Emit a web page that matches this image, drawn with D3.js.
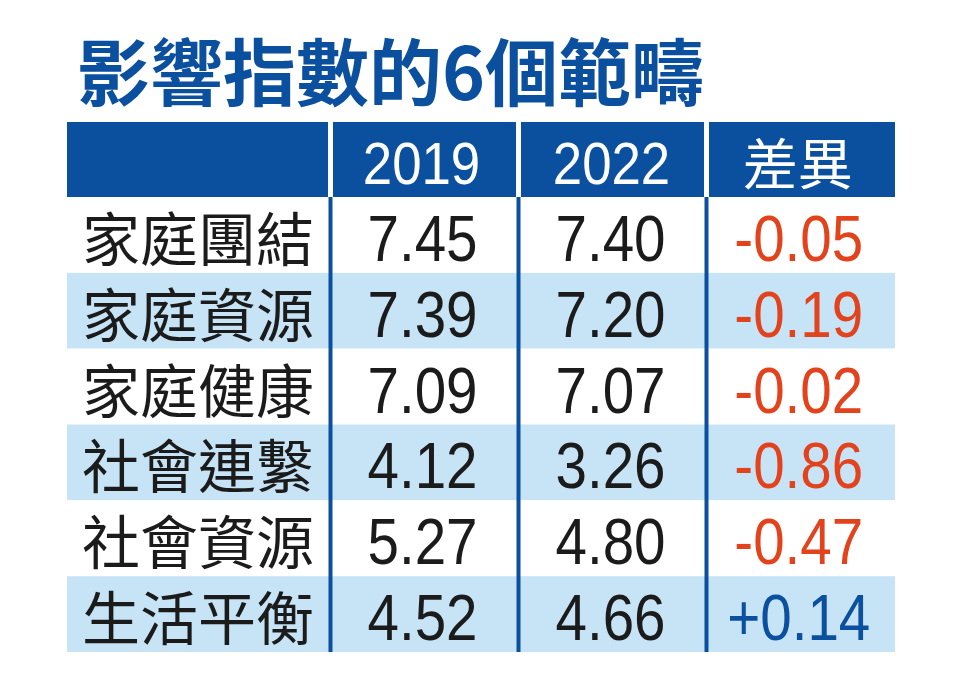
<!DOCTYPE html>
<html>
<head>
<meta charset="utf-8">
<script src="https://cdn.jsdelivr.net/npm/d3@7"></script>
<style>
  html, body { margin: 0; padding: 0; background: #fff; }
  svg { display: block; }
</style>
</head>
<body>
<svg id="chart" width="960" height="683"></svg>
<script>
const title = "影響指數的6個範疇";
const headers = ["", "2019", "2022", "差異"];
const categories = ["家庭團結", "家庭資源", "家庭健康", "社會連繫", "社會資源", "生活平衡"];
const values2019 = ["7.45", "7.39", "7.09", "4.12", "5.27", "4.52"];
const values2022 = ["7.40", "7.20", "7.07", "3.26", "4.80", "4.66"];
const diffs = ["-0.05", "-0.19", "-0.02", "-0.86", "-0.47", "+0.14"];

const svg = d3.select("#chart");
const blue = "#0b4f9f";
const light = "#c7e4f7";
const red = "#e2431c";
const ink = "#1b1b1b";

const left = 67, right = 895;
const colEdges = [left, 330.5, 518.5, 706.5, right];
const headerTop = 122, headerBottom = 197, tableBottom = 652;

const y = d3.scaleBand().domain(d3.range(categories.length)).range([headerBottom, tableBottom]);

// title
svg.append("text")
  .attr("x", 77).attr("y", 68)
  .attr("dominant-baseline", "central")
  .attr("font-family", "'Noto Sans CJK TC', 'Noto Sans CJK SC', sans-serif")
  .attr("font-weight", 700)
  .attr("font-size", 73)
  .attr("fill", blue)
  .text(title);

// header background
svg.append("rect").attr("x", left).attr("y", headerTop)
  .attr("width", right - left).attr("height", headerBottom - headerTop).attr("fill", blue);

// row backgrounds
svg.selectAll("rect.row").data(categories).join("rect")
  .attr("class", "row")
  .attr("x", left).attr("y", (d, i) => y(i))
  .attr("width", right - left).attr("height", y.bandwidth())
  .attr("fill", (d, i) => i % 2 === 1 ? light : "#ffffff");

// header separators (white) and body vertical lines (blue)
[1, 2, 3].forEach(k => {
  svg.append("rect").attr("x", colEdges[k] - 2.5).attr("y", headerTop)
    .attr("width", 5).attr("height", headerBottom - headerTop).attr("fill", "#ffffff");
  svg.append("rect").attr("x", colEdges[k] - 2).attr("y", headerBottom)
    .attr("width", 4).attr("height", tableBottom - headerBottom).attr("fill", blue);
});

const cx = k => (colEdges[k] + colEdges[k + 1]) / 2;
const numFont = "'Liberation Sans', Arial, Helvetica, sans-serif";

// header texts
svg.append("text")
  .attr("transform", `translate(${cx(1) - 3},${headerTop + 62}) scale(0.88,1)`)
  .attr("text-anchor", "middle").attr("font-family", numFont).attr("font-size", 60)
  .attr("fill", "#fff").text(headers[1]);
svg.append("text")
  .attr("transform", `translate(${cx(2) - 1},${headerTop + 62}) scale(0.88,1)`)
  .attr("text-anchor", "middle").attr("font-family", numFont).attr("font-size", 60)
  .attr("fill", "#fff").text(headers[2]);
svg.append("text")
  .attr("x", cx(3) - 3).attr("y", (headerTop + headerBottom) / 2)
  .attr("text-anchor", "middle").attr("dominant-baseline", "central")
  .attr("font-family", "'Noto Sans CJK TC', sans-serif").attr("font-size", 55)
  .attr("fill", "#fff").text(headers[3]);

// row labels
svg.selectAll("text.cat").data(categories).join("text")
  .attr("class", "cat")
  .attr("x", 82).attr("y", (d, i) => y(i) + y.bandwidth() / 2 + 1)
  .attr("dominant-baseline", "central")
  .attr("font-family", "'Noto Sans CJK TC', sans-serif")
  .attr("font-size", 58).attr("fill", ink)
  .text(d => d);

function numCol(data, k, cls) {
  svg.selectAll("text." + cls).data(data).join("text")
    .attr("class", cls)
    .attr("transform", (d, i) => `translate(${cx(k) - 2},${y(i) + y.bandwidth() / 2 + 26}) scale(0.87,1)`)
    .attr("text-anchor", "middle")
    .attr("font-family", numFont).attr("font-size", 65)
    .attr("fill", ink)
    .text(d => d);
}
numCol(values2019, 1, "v19");
numCol(values2022, 2, "v22");
numCol(diffs, 3, "df");
svg.selectAll("text.df").attr("fill", d => d.startsWith("+") ? blue : red);
</script>
</body>
</html>
